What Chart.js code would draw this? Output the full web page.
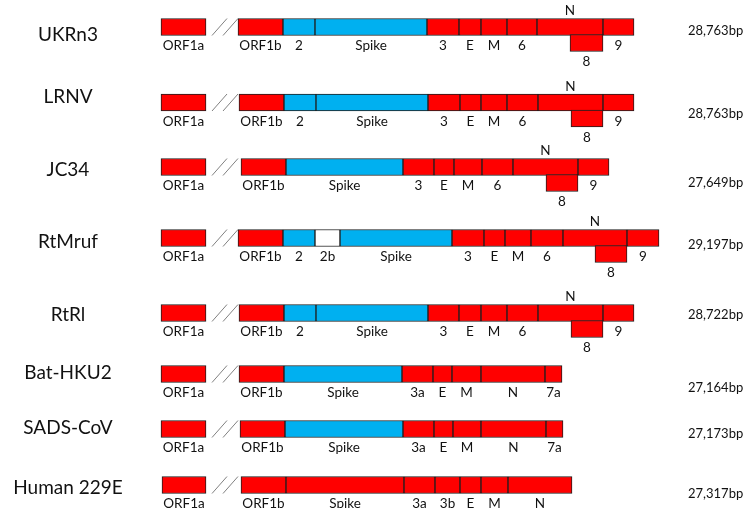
<!DOCTYPE html>
<html>
<head>
<meta charset="utf-8">
<script src="https://cdn.jsdelivr.net/npm/chart.js@4.4.1/dist/chart.umd.min.js"></script>
<style>
  body { margin: 0; background: #fff; }
  #wrap { width: 744px; height: 508px; position: relative; }
</style>
</head>
<body>
<div id="wrap"><canvas id="genomes"></canvas></div>
<script>
"use strict";

// Genomes, top to bottom
const rowNames = ["UKRn3", "LRNV", "JC34", "RtMruf", "RtRl", "Bat-HKU2", "SADS-CoV", "Human 229E"];
const genomeSizes = ["28,763bp", "28,763bp", "27,649bp", "29,197bp", "28,722bp", "27,164bp", "27,173bp", "27,317bp"];

// Genes per genome: name, start, end (diagram units), kind (r = red, b = blue, w = white)
const ukrn3Names = ["ORF1a", "ORF1b", "2", "Spike", "3", "E", "M", "6", "N", "9", "8"];
const ukrn3Start = [161, 238, 283, 315, 427, 459, 481, 507, 537, 603, 570];
const ukrn3End   = [206, 283, 315, 427, 459, 481, 507, 537, 603, 634, 603];
const ukrn3Kind  = ["r", "r", "b", "b", "r", "r", "r", "r", "r", "r", "r"];

const lrnvNames = ["ORF1a", "ORF1b", "2", "Spike", "3", "E", "M", "6", "N", "9", "8"];
const lrnvStart = [161, 239, 284, 316, 428, 460, 481, 507, 538, 603, 571];
const lrnvEnd   = [206, 284, 316, 428, 460, 481, 507, 538, 603, 634, 603];
const lrnvKind  = ["r", "r", "b", "b", "r", "r", "r", "r", "r", "r", "r"];

const jc34Names = ["ORF1a", "ORF1b", "Spike", "3", "E", "M", "6", "N", "9", "8"];
const jc34Start = [161, 241, 286, 403, 434, 454, 482, 513, 578, 546];
const jc34End   = [206, 286, 403, 434, 454, 482, 513, 578, 609, 578];
const jc34Kind  = ["r", "r", "b", "r", "r", "r", "r", "r", "r", "r"];

const rtmrufNames = ["ORF1a", "ORF1b", "2", "2b", "Spike", "3", "E", "M", "6", "N", "9", "8"];
const rtmrufStart = [161, 238, 283, 315, 340, 452, 484, 505, 531, 563, 627, 595];
const rtmrufEnd   = [206, 283, 315, 340, 452, 484, 505, 531, 563, 627, 659, 627];
const rtmrufKind  = ["r", "r", "b", "w", "b", "r", "r", "r", "r", "r", "r", "r"];

const rtrlNames = ["ORF1a", "ORF1b", "2", "Spike", "3", "E", "M", "6", "N", "9", "8"];
const rtrlStart = [161, 239, 284, 316, 428, 459, 481, 507, 538, 603, 571];
const rtrlEnd   = [206, 284, 316, 428, 459, 481, 507, 538, 603, 634, 603];
const rtrlKind  = ["r", "r", "b", "b", "r", "r", "r", "r", "r", "r", "r"];

const hku2Names = ["ORF1a", "ORF1b", "Spike", "3a", "E", "M", "N", "7a"];
const hku2Start = [161, 239, 284, 402, 433, 452, 481, 545];
const hku2End   = [206, 284, 402, 433, 452, 481, 545, 562];
const hku2Kind  = ["r", "r", "b", "r", "r", "r", "r", "r"];

const sadsNames = ["ORF1a", "ORF1b", "Spike", "3a", "E", "M", "N", "7a"];
const sadsStart = [161, 240, 285, 403, 434, 453, 481, 546];
const sadsEnd   = [206, 285, 403, 434, 453, 481, 546, 563];
const sadsKind  = ["r", "r", "b", "r", "r", "r", "r", "r"];

const h229eNames = ["ORF1a", "ORF1b", "Spike", "3a", "3b", "E", "M", "N"];
const h229eStart = [162, 241, 286, 404, 435, 460, 481, 508];
const h229eEnd   = [206, 286, 404, 435, 460, 481, 508, 572];
const h229eKind  = ["r", "r", "r", "r", "r", "r", "r", "r"];

// Layout (not data)
const rowY  = [27, 102.5, 167, 238, 313, 374, 429, 485];
const nameY = [35, 97, 170, 242, 315, 373, 428, 488];
const sizeY = [31, 114, 183, 245, 315, 388, 434, 494];
const barH = 17;
const palette = { r: "#ff0000", b: "#00b0f0", w: "#ffffff" };

const rows = [
    [ukrn3Names, ukrn3Start, ukrn3End, ukrn3Kind],
    [lrnvNames, lrnvStart, lrnvEnd, lrnvKind],
    [jc34Names, jc34Start, jc34End, jc34Kind],
    [rtmrufNames, rtmrufStart, rtmrufEnd, rtmrufKind],
    [rtrlNames, rtrlStart, rtrlEnd, rtrlKind],
    [hku2Names, hku2Start, hku2End, hku2Kind],
    [sadsNames, sadsStart, sadsEnd, sadsKind],
    [h229eNames, h229eStart, h229eEnd, h229eKind]
];

// Bygg staplar och etiketter
let bars = [];
let colors = [];
let labels = [];

rows.forEach((row, r) => {
    let [names, starts, ends, kinds] = row;
    let hasLower = names.includes("8");
    names.forEach((name, i) => {
        let lower = name === "8";
        let y = rowY[r] + (lower ? barH - 1 : 0);
        bars.push({ x: [starts[i], ends[i]], y: y });
        colors.push(palette[kinds[i]]);

        let ly = rowY[r] + 19;
        if (lower) ly = rowY[r] + 35;
        if (name === "N" && hasLower) ly = rowY[r] - 16;
        labels.push({ text: name, x: (starts[i] + ends[i]) / 2, y: ly });
    });
});

// Brytmarkeringar "//" mellan ORF1a och ORF1b
let breakSets = [];
rowY.forEach((y) => {
    [[212, 227], [223, 238]].forEach((seg) => {
        breakSets.push({
            type: "line",
            data: [{ x: seg[0], y: y + barH / 2 }, { x: seg[1], y: y - barH / 2 }],
            borderColor: "#808080",
            borderWidth: 1,
            pointRadius: 0
        });
    });
});

const textPlugin = {
    id: "genomeText",
    afterDatasetsDraw(chart) {
        const ctx = chart.ctx;
        const xs = chart.scales.x;
        const ys = chart.scales.y;
        ctx.save();
        ctx.fillStyle = "#111";
        ctx.textBaseline = "middle";

        ctx.textAlign = "center";
        ctx.font = "13.5px Lato";
        labels.forEach((l) => {
            ctx.fillText(l.text, xs.getPixelForValue(l.x), ys.getPixelForValue(l.y));
        });

        ctx.font = "19px Lato";
        rowNames.forEach((n, i) => {
            ctx.fillText(n, xs.getPixelForValue(68), ys.getPixelForValue(nameY[i]));
        });

        ctx.textAlign = "left";
        ctx.font = "13px Lato";
        genomeSizes.forEach((s, i) => {
            ctx.fillText(s, xs.getPixelForValue(688), ys.getPixelForValue(sizeY[i]));
        });
        ctx.restore();
    }
};

new Chart(document.getElementById("genomes"), {
    type: "bar",
    data: {
        datasets: [{
            type: "bar",
            indexAxis: "y",
            data: bars,
            backgroundColor: colors,
            borderColor: "#1e1e1e",
            borderWidth: 1,
            borderSkipped: false,
            barThickness: barH,
            grouped: false
        }].concat(breakSets)
    },
    options: {
        responsive: true,
        maintainAspectRatio: false,
        animation: false,
        layout: { padding: 0 },
        plugins: { legend: { display: false }, tooltip: { enabled: false } },
        scales: {
            x: { type: "linear", min: 0, max: 744, offset: false, grace: 0, display: false },
            y: { type: "linear", min: 0, max: 508, offset: false, grace: 0, reverse: true, display: false }
        }
    },
    plugins: [textPlugin]
});
</script>
</body>
</html>
